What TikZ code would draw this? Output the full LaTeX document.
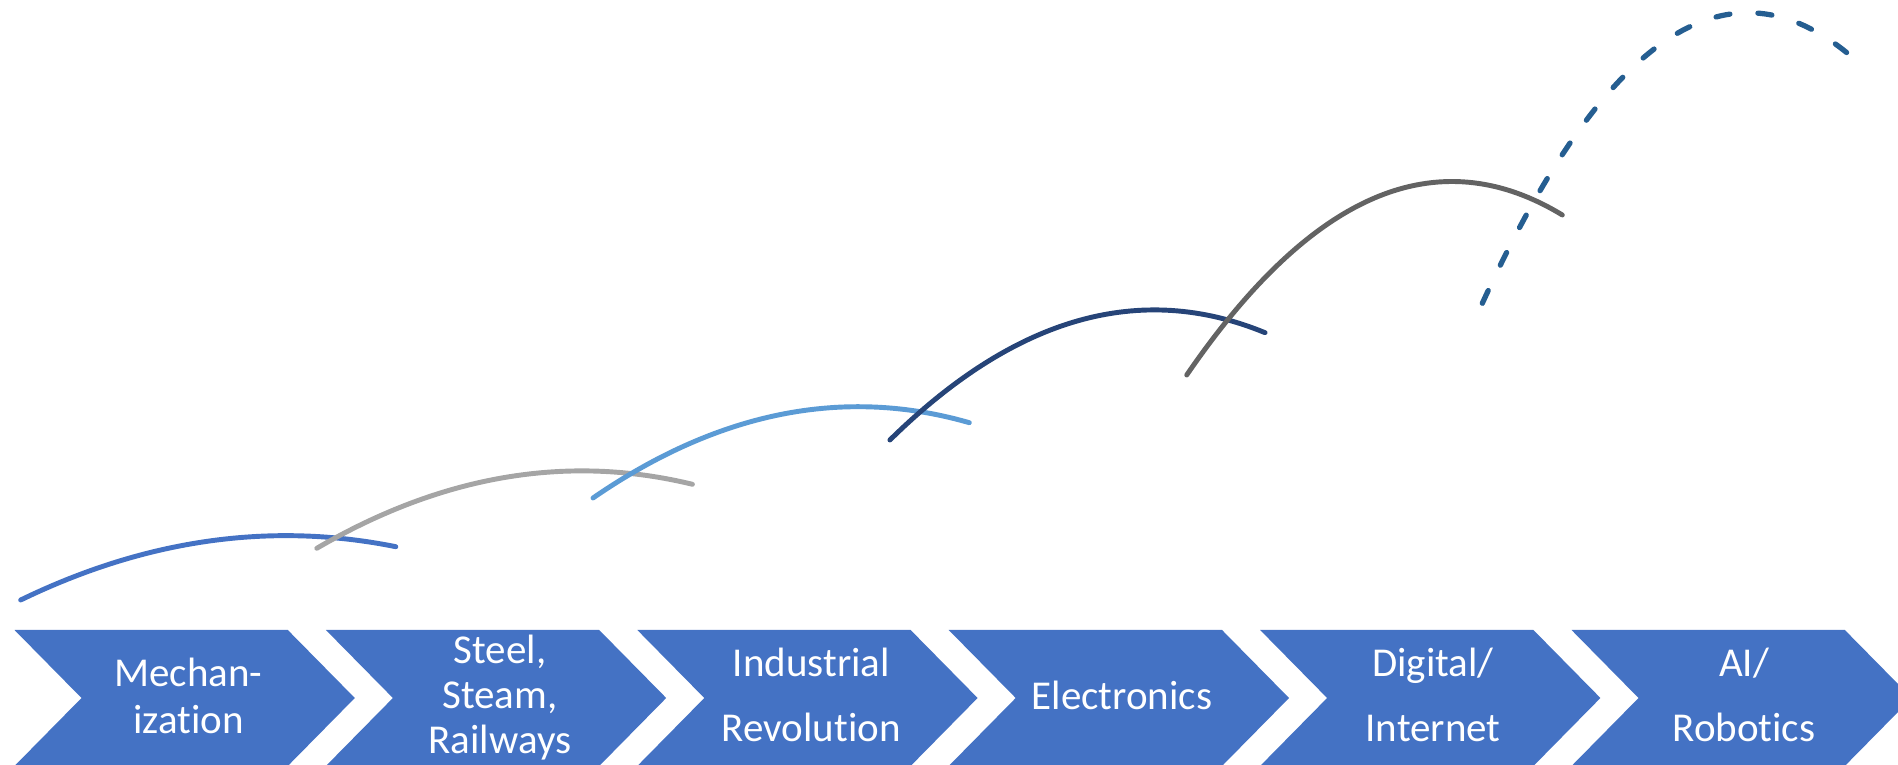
\documentclass[tikz,border=0pt]{standalone}
\usepackage{fontspec}
\setmainfont{Carlito}[Ligatures=NoCommon]
\usetikzlibrary{calc}

\definecolor{chevblue}{HTML}{4472C4}
\definecolor{waveA}{HTML}{4472C4}
\definecolor{waveB}{HTML}{A5A5A5}
\definecolor{waveC}{HTML}{5B9BD5}
\definecolor{waveD}{HTML}{264478}
\definecolor{waveE}{HTML}{636363}
\definecolor{waveF}{HTML}{255E91}

\tikzset{
  chevron/.style={fill=chevblue, draw=none},
  stagetext/.style={anchor=base, inner sep=0pt, text=white,
    font=\fontsize{11.66}{13.1}\selectfont},
  wave/.style={line width=1.4pt, line cap=round},
  futurewave/.style={wave, line width=1.5pt, dash pattern=on 4.0pt off 8.0pt}
}

\begin{document}
\begin{tikzpicture}[x=0.01cm, y=-0.01cm]
  \useasboundingbox (0,0) rectangle (1898,765);

  % stage chevrons along the bottom
  \foreach \i in {0,...,5} {
    \pgfmathsetmacro{\L}{14.5 + 311.4*\i}
    \fill[chevron] (\L,630) -- ++(273.3,0) -- ++(67,68) -- ++(-67,68)
      -- ++(-273.3,0) -- ++(67,-68) -- cycle;
  }

  % stage labels (one node per printed line)
  \node[stagetext] (s1a) at (188.5,686.7) {Mechan-};
  \node[stagetext] (s1b) at (188.5,733.3) {ization};

  \node[stagetext] (s2a) at (500,663.3) {Steel,};
  \node[stagetext] (s2b) at (500,708.3) {Steam,};
  \node[stagetext] (s2c) at (500,753.3) {Railways};

  \node[stagetext] (s3a) at (811.3,676.7) {Industrial};
  \node[stagetext] (s3b) at (811.3,741.7) {Revolution};

  \node[stagetext] (s4a) at (1122,710) {Electronics};

  \node[stagetext] (s5a) at (1433,676.7) {Digital/};
  \node[stagetext] (s5b) at (1433,741.7) {Internet};

  \node[stagetext] (s6a) at (1744,676.7) {AI/};
  \node[stagetext] (s6b) at (1744,741.7) {Robotics};

  % growth waves: each a parabolic arc (start, tangent point, end)
  \coordinate (a0) at (20.7,600);   \coordinate (aq) at (208.3,509);   \coordinate (a1) at (395.8,546.7);
  \coordinate (b0) at (316.8,548.3);\coordinate (bq) at (504.6,438.7); \coordinate (b1) at (692.4,484.3);
  \coordinate (c0) at (593,498);    \coordinate (cq) at (781,368.5);   \coordinate (c1) at (969.3,422.7);
  \coordinate (d0) at (889.9,440);  \coordinate (dq) at (1077.5,255.5);\coordinate (d1) at (1265,332.7);
  \coordinate (e0) at (1186.7,375); \coordinate (eq) at (1374.5,101);  \coordinate (e1) at (1562.3,215);
  \coordinate (f0) at (1482.3,303.3);\coordinate (fq) at (1667,-101);  \coordinate (f1) at (1852.3,57.3);

  \draw[wave, waveA] (a0) .. controls ($(a0)!2/3!(aq)$) and ($(a1)!2/3!(aq)$) .. (a1);
  \draw[wave, waveB] (b0) .. controls ($(b0)!2/3!(bq)$) and ($(b1)!2/3!(bq)$) .. (b1);
  \draw[wave, waveC] (c0) .. controls ($(c0)!2/3!(cq)$) and ($(c1)!2/3!(cq)$) .. (c1);
  \draw[wave, waveD] (d0) .. controls ($(d0)!2/3!(dq)$) and ($(d1)!2/3!(dq)$) .. (d1);
  \draw[wave, waveE] (e0) .. controls ($(e0)!2/3!(eq)$) and ($(e1)!2/3!(eq)$) .. (e1);
  \draw[futurewave, waveF] (f0) .. controls ($(f0)!2/3!(fq)$) and ($(f1)!2/3!(fq)$) .. (f1);
\end{tikzpicture}
\end{document}
